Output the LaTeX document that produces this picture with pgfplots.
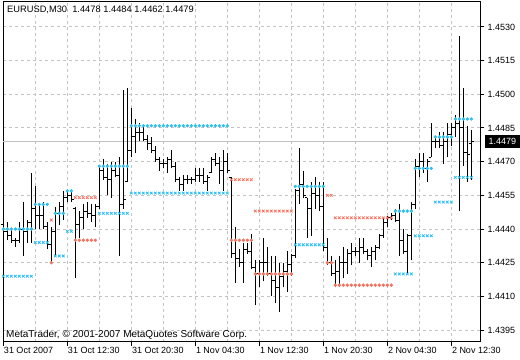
\documentclass[border=0pt]{standalone}
\usepackage{pgfplots}
\pgfplotsset{compat=1.18}
\usepackage{pgfplotstable}
\usepackage{fontspec}
\setmainfont{Liberation Sans}
\definecolor{cy}{RGB}{45,190,235}
\definecolor{sa}{RGB}{240,115,95}
\definecolor{gridc}{RGB}{195,195,195}
\pgfdeclareplotmark{otick}{\pgfpathmoveto{\pgfpoint{-2.6bp}{0bp}}\pgfpathlineto{\pgfpoint{0bp}{0bp}}\pgfusepathqstroke}
\pgfdeclareplotmark{ctick}{\pgfpathmoveto{\pgfpoint{0bp}{0bp}}\pgfpathlineto{\pgfpoint{2.6bp}{0bp}}\pgfusepathqstroke}
\pgfplotstableread{
x o h l c cu cl su sl
0 1.4442 1.4446 1.4438 1.4439 1.4440 1.4419 nan nan
1 1.4439 1.4443 1.4435 1.4437 1.4440 1.4419 nan nan
2 1.4437 1.4440 1.4434 1.4435 1.4440 1.4419 nan nan
3 1.4435 1.4436 1.4432 1.4435 1.4440 1.4419 nan nan
4 1.4435 1.4443 1.4434 1.4440 1.4440 1.4419 nan nan
5 1.4440 1.4452 1.4428 1.4439 1.4440 1.4419 nan nan
6 1.4439 1.4444 1.4434 1.4443 1.4440 1.4419 nan nan
7 1.4443 1.4465 1.4434 1.4449 1.4440 1.4419 nan nan
8 1.4449 1.4459 1.4440 1.4446 1.4451 1.4434 nan nan
9 1.4446 1.4451 1.4440 1.4446 1.4451 1.4434 nan nan
10 1.4446 1.4452 1.4440 1.4441 1.4451 1.4434 nan nan
11 1.4441 1.4443 1.4431 1.4433 1.4451 1.4434 nan nan
12 1.4433 1.4441 1.4425 1.4439 nan nan 1.4444 1.4425
13 1.4439 1.4450 1.4428 1.4447 1.4447 1.4428 nan nan
14 1.4447 1.4452 1.4442 1.4450 1.4447 1.4428 nan nan
15 1.4450 1.4457 1.4444 1.4454 1.4447 1.4428 nan nan
16 1.4454 1.4457 1.4452 1.4455 1.4457 1.4439 nan nan
17 1.4455 1.4457 1.4452 1.4453 1.4457 1.4439 nan nan
18 1.4449 1.4450 1.4418 1.4442 nan nan 1.4454 1.4435
19 1.4442 1.4448 1.4436 1.4445 nan nan 1.4454 1.4435
20 1.4445 1.4451 1.4440 1.4448 nan nan 1.4454 1.4435
21 1.4448 1.4452 1.4445 1.4447 nan nan 1.4454 1.4435
22 1.4447 1.4451 1.4443 1.4446 nan nan 1.4454 1.4435
23 1.4446 1.4451 1.4441 1.4450 nan nan 1.4454 1.4435
24 1.4450 1.4468 1.4449 1.4466 1.4468 1.4447 nan nan
25 1.4466 1.4471 1.4462 1.4463 1.4468 1.4447 nan nan
26 1.4463 1.4469 1.4455 1.4462 1.4468 1.4447 nan nan
27 1.4462 1.4470 1.4454 1.4466 1.4468 1.4447 nan nan
28 1.4466 1.4470 1.4463 1.4464 1.4468 1.4447 nan nan
29 1.4464 1.4472 1.4428 1.4451 1.4468 1.4447 nan nan
30 1.4451 1.4502 1.4449 1.4453 1.4468 1.4447 nan nan
31 1.4461 1.4503 1.4461 1.4475 1.4468 1.4447 nan nan
32 1.4475 1.4494 1.4472 1.4481 1.4486 1.4456 nan nan
33 1.4481 1.4489 1.4474 1.4483 1.4486 1.4456 nan nan
34 1.4483 1.4487 1.4479 1.4483 1.4486 1.4456 nan nan
35 1.4483 1.4486 1.4479 1.4480 1.4486 1.4456 nan nan
36 1.4480 1.4482 1.4475 1.4478 1.4486 1.4456 nan nan
37 1.4478 1.4481 1.4474 1.4475 1.4486 1.4456 nan nan
38 1.4475 1.4477 1.4470 1.4471 1.4486 1.4456 nan nan
39 1.4471 1.4472 1.4466 1.4469 1.4486 1.4456 nan nan
40 1.4469 1.4471 1.4467 1.4469 1.4486 1.4456 nan nan
41 1.4469 1.4472 1.4465 1.4471 1.4486 1.4456 nan nan
42 1.4471 1.4475 1.4467 1.4468 1.4486 1.4456 nan nan
43 1.4468 1.4470 1.4461 1.4462 1.4486 1.4456 nan nan
44 1.4462 1.4463 1.4457 1.4460 1.4486 1.4456 nan nan
45 1.4460 1.4464 1.4457 1.4462 1.4486 1.4456 nan nan
46 1.4462 1.4464 1.4460 1.4462 1.4486 1.4456 nan nan
47 1.4462 1.4463 1.4460 1.4462 1.4486 1.4456 nan nan
48 1.4462 1.4467 1.4461 1.4464 1.4486 1.4456 nan nan
49 1.4464 1.4467 1.4461 1.4464 1.4486 1.4456 nan nan
50 1.4464 1.4467 1.4460 1.4461 1.4486 1.4456 nan nan
51 1.4461 1.4464 1.4457 1.4463 1.4486 1.4456 nan nan
52 1.4465 1.4472 1.4465 1.4471 1.4486 1.4456 nan nan
53 1.4471 1.4474 1.4468 1.4469 1.4486 1.4456 nan nan
54 1.4469 1.4472 1.4460 1.4466 1.4486 1.4456 nan nan
55 1.4466 1.4475 1.4457 1.4470 1.4486 1.4456 nan nan
56 1.4470 1.4474 1.4465 1.4466 1.4486 1.4456 nan nan
57 1.4463 1.4463 1.4427 1.4429 nan nan 1.4462 1.4435
58 1.4429 1.4441 1.4416 1.4427 nan nan 1.4462 1.4435
59 1.4427 1.4431 1.4423 1.4425 nan nan 1.4462 1.4435
60 1.4425 1.4434 1.4416 1.4431 nan nan 1.4462 1.4435
61 1.4431 1.4434 1.4429 1.4430 nan nan 1.4462 1.4435
62 1.4430 1.4438 1.4422 1.4423 nan nan 1.4462 1.4435
63 1.4423 1.4426 1.4406 1.4420 nan nan 1.4448 1.4420
64 1.4420 1.4426 1.4414 1.4425 nan nan 1.4448 1.4420
65 1.4425 1.4436 1.4417 1.4425 nan nan 1.4448 1.4420
66 1.4425 1.4432 1.4419 1.4420 nan nan 1.4448 1.4420
67 1.4420 1.4428 1.4410 1.4417 nan nan 1.4448 1.4420
68 1.4417 1.4428 1.4407 1.4414 nan nan 1.4448 1.4420
69 1.4414 1.4425 1.4403 1.4419 nan nan 1.4448 1.4420
70 1.4419 1.4425 1.4414 1.4421 nan nan 1.4448 1.4420
71 1.4421 1.4430 1.4412 1.4424 nan nan 1.4448 1.4420
72 1.4424 1.4429 1.4419 1.4428 nan nan 1.4448 1.4420
73 1.4428 1.4458 1.4427 1.4457 1.4459 1.4433 nan nan
74 1.4457 1.4476 1.4451 1.4460 1.4459 1.4433 nan nan
75 1.4460 1.4466 1.4454 1.4455 1.4459 1.4433 nan nan
76 1.4454 1.4454 1.4436 1.4449 1.4459 1.4433 nan nan
77 1.4449 1.4461 1.4437 1.4456 1.4459 1.4433 nan nan
78 1.4456 1.4463 1.4449 1.4455 1.4459 1.4433 nan nan
79 1.4455 1.4461 1.4448 1.4450 1.4459 1.4433 nan nan
80 1.4450 1.4461 1.4430 1.4432 1.4459 1.4433 nan nan
81 1.4432 1.4436 1.4424 1.4425 nan nan 1.4455 1.4425
82 1.4425 1.4428 1.4419 1.4420 nan nan 1.4455 1.4425
83 1.4420 1.4426 1.4414 1.4421 nan nan 1.4445 1.4415
84 1.4421 1.4428 1.4414 1.4425 nan nan 1.4445 1.4415
85 1.4425 1.4432 1.4418 1.4425 nan nan 1.4445 1.4415
86 1.4425 1.4431 1.4420 1.4429 nan nan 1.4445 1.4415
87 1.4429 1.4434 1.4424 1.4430 nan nan 1.4445 1.4415
88 1.4430 1.4432 1.4428 1.4430 nan nan 1.4445 1.4415
89 1.4430 1.4436 1.4425 1.4432 nan nan 1.4445 1.4415
90 1.4432 1.4436 1.4429 1.4430 nan nan 1.4445 1.4415
91 1.4430 1.4431 1.4426 1.4428 nan nan 1.4445 1.4415
92 1.4428 1.4432 1.4423 1.4430 nan nan 1.4445 1.4415
93 1.4430 1.4433 1.4426 1.4432 nan nan 1.4445 1.4415
94 1.4432 1.4438 1.4431 1.4437 nan nan 1.4445 1.4415
95 1.4437 1.4445 1.4436 1.4443 nan nan 1.4445 1.4415
96 1.4443 1.4446 1.4441 1.4445 nan nan 1.4445 1.4415
97 1.4445 1.4447 1.4444 1.4446 nan nan 1.4445 1.4415
98 1.4446 1.4449 1.4443 1.4444 1.4448 1.4420 nan nan
99 1.4444 1.4451 1.4428 1.4435 1.4448 1.4420 nan nan
100 1.4435 1.4440 1.4429 1.4430 1.4448 1.4420 nan nan
101 1.4430 1.4438 1.4420 1.4437 1.4448 1.4420 nan nan
102 1.4437 1.4452 1.4426 1.4451 1.4448 1.4420 nan nan
103 1.4451 1.4471 1.4449 1.4468 1.4467 1.4437 nan nan
104 1.4468 1.4474 1.4463 1.4470 1.4467 1.4437 nan nan
105 1.4470 1.4474 1.4465 1.4467 1.4467 1.4437 nan nan
106 1.4467 1.4471 1.4461 1.4470 1.4467 1.4437 nan nan
107 1.4472 1.4487 1.4472 1.4479 1.4467 1.4437 nan nan
108 1.4479 1.4481 1.4476 1.4479 1.4481 1.4452 nan nan
109 1.4479 1.4483 1.4476 1.4477 1.4481 1.4452 nan nan
110 1.4477 1.4483 1.4469 1.4479 1.4481 1.4452 nan nan
111 1.4479 1.4487 1.4472 1.4482 1.4481 1.4452 nan nan
112 1.4482 1.4487 1.4477 1.4485 1.4481 1.4452 nan nan
113 1.4485 1.4491 1.4481 1.4487 1.4489 1.4463 nan nan
114 1.4487 1.4526 1.4448 1.4485 1.4489 1.4463 nan nan
115 1.4485 1.4503 1.4468 1.4474 1.4489 1.4463 nan nan
116 1.4474 1.4486 1.4461 1.4473 1.4489 1.4463 nan nan
117 1.4478 1.4484 1.4462 1.4479 1.4489 1.4463 nan nan
}\bars
\begin{document}
\begin{tikzpicture}
\begin{axis}[
  at={(0,0)}, anchor=south west,
  scale only axis, width=477bp, height=340bp,
  xmin=-0.075, xmax=119.175,
  ymin=1.43897, ymax=1.45411,
  axis line style={black, line width=1bp},
  xtick={0,16,32,48,64,80,96,112},
  xticklabels={31 Oct 2007, 31 Oct 12:30, 31 Oct 20:30, 1 Nov 04:30, 1 Nov 12:30, 1 Nov 20:30, 2 Nov 04:30, 2 Nov 12:30},
  minor xtick={8,24,40,56,72,88,104},
  ytick={1.4395,1.4410,1.4425,1.4440,1.4455,1.4470,1.4485,1.4500,1.4515,1.4530},
  xtick pos=bottom, ytick pos=right,
  tick align=outside, major tick length=4bp, minor tick length=0pt,
  tick style={black, line width=1bp},
  grid=both,
  major grid style={gridc, dash pattern=on 3bp off 3bp, line width=1bp},
  minor grid style={gridc, dash pattern=on 3bp off 3bp, line width=1bp},
  /pgf/number format/assume math mode=true,
  scaled y ticks=false,
  yticklabel={\pgfmathprintnumber[fixed,fixed zerofill,precision=4]{\tick}},
  tick label style={font=\fontsize{9bp}{10bp}\selectfont},
  xticklabel style={anchor=north west, inner sep=0pt, xshift=0.5bp, yshift=-1.5bp},
  yticklabel style={anchor=west, inner sep=0pt, xshift=3.5bp},
  extra y ticks={1.4479},
  extra y tick style={grid=major, major grid style={solid, gridc, line width=1bp},
    tick style={draw=none},
    yticklabel style={fill=black, text=white, inner xsep=4bp, inner ysep=3bp, text height=6.4bp, text depth=0bp, xshift=-3bp}},
  clip=true,
]
\addplot[draw=none, mark=none,
  error bars/.cd, y dir=plus, y explicit, error mark=none,
  error bar style={draw=black, solid, line width=1.2bp}]
  table[x=x, y=l, y error expr=\thisrow{h}-\thisrow{l}] {\bars};
\addplot[black, only marks, mark=otick, mark options={line width=1bp}] table[x=x, y=o] {\bars};
\addplot[black, only marks, mark=ctick, mark options={line width=1bp}] table[x=x, y=c] {\bars};
\addplot[cy, only marks, mark=*, mark size=1.5bp] table[x=x, y=cu] {\bars};
\addplot[cy, only marks, mark=x, mark size=1.8bp, mark options={line width=0.8bp}] table[x=x, y=cl] {\bars};
\addplot[sa, only marks, mark=x, mark size=1.8bp, mark options={line width=0.8bp}] table[x=x, y=su] {\bars};
\addplot[sa, only marks, mark=*, mark size=1.5bp] table[x=x, y=sl] {\bars};
\node[anchor=west, inner sep=0pt, font=\fontsize{9.3bp}{10bp}\selectfont] at (axis description cs:0.0084,0.976) {EURUSD,M30\ \ 1.4478 1.4484 1.4462 1.4479};
\node[anchor=west, inner sep=0pt, font=\fontsize{10bp}{11bp}\selectfont] at (axis description cs:0.0063,0.022) {MetaTrader, © 2001-2007 MetaQuotes Software Corp.};
\end{axis}
\pgfresetboundingbox
\useasboundingbox (-3bp,-18bp) rectangle (517bp,342bp);
\end{tikzpicture}
\end{document}
